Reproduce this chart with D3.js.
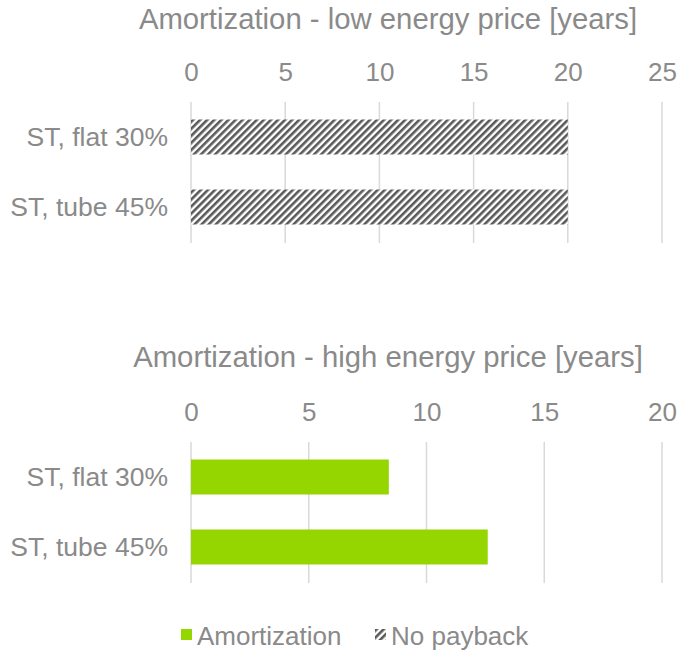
<!DOCTYPE html>
<html>
<head>
<meta charset="utf-8">
<script src="https://cdn.jsdelivr.net/npm/d3@7"></script>
<style>
  body { margin: 0; background: white; }
  text { font-family: "Liberation Sans", Arial, sans-serif; fill: #8a8a8a; }
</style>
</head>
<body>
<div id="chart"></div>
<script>
const categories = ['ST, flat 30%', 'ST, tube 45%']
const lowNoPayback = [20, 20]
const highAmortization = [8.4, 12.6]
const lowTicks = [0, 5, 10, 15, 20, 25]
const highTicks = [0, 5, 10, 15, 20]
const legendItems = ['Amortization', 'No payback']

const width = 680
const height = 651
const green = '#96d600'
const gridColor = '#d9d9d9'
const textColor = '#8a8a8a'

const svg = d3.select('#chart').append('svg')
  .attr('width', width)
  .attr('height', height)

svg.append('rect')
  .attr('width', width)
  .attr('height', height)
  .attr('fill', 'white')

// hatch for "no payback"
const defs = svg.append('defs')
const pattern = defs.append('pattern')
  .attr('id', 'hatch')
  .attr('patternUnits', 'userSpaceOnUse')
  .attr('width', 5)
  .attr('height', 5)
  .attr('patternTransform', 'rotate(45)')
pattern.append('rect')
  .attr('width', 5)
  .attr('height', 5)
  .attr('fill', 'white')
pattern.append('rect')
  .attr('width', 2.6)
  .attr('height', 5)
  .attr('fill', '#595959')

function panel(opts) {
  const g = svg.append('g')
  const x = d3.scaleLinear()
    .domain([0, opts.ticks[opts.ticks.length - 1]])
    .range([191, 662])
  const y = d3.scaleBand()
    .domain(categories)
    .range([opts.top, opts.top + 140])
    .paddingInner(0.5)
    .paddingOuter(0.25)

  g.append('text')
    .attr('x', 388)
    .attr('y', opts.titleY)
    .attr('text-anchor', 'middle')
    .attr('font-size', 29.3)
    .text(opts.title)

  // grid lines
  g.selectAll('.grid')
    .data(opts.ticks)
    .enter().append('line')
    .attr('x1', d => x(d))
    .attr('x2', d => x(d))
    .attr('y1', opts.top)
    .attr('y2', opts.top + 141)
    .attr('stroke', gridColor)
    .attr('stroke-width', 1.5)

  const axis = g.append('g')
    .attr('transform', 'translate(0,' + (opts.top - 21) + ')')
    .call(d3.axisTop(x).tickValues(opts.ticks).tickSize(0).tickPadding(0))
  axis.select('.domain').remove()
  axis.selectAll('text')
    .attr('font-size', 26)
    .attr('fill', textColor)
    .attr('font-family', '"Liberation Sans", Arial, sans-serif')

  g.selectAll('.cat')
    .data(categories)
    .enter().append('text')
    .attr('x', 168)
    .attr('y', d => y(d) + y.bandwidth() / 2)
    .attr('dy', '0.35em')
    .attr('text-anchor', 'end')
    .attr('font-size', 26.5)
    .text(d => d)

  g.selectAll('.bar')
    .data(opts.values)
    .enter().append('rect')
    .attr('x', x(0))
    .attr('y', (d, i) => y(categories[i]))
    .attr('width', d => x(d) - x(0))
    .attr('height', y.bandwidth())
    .attr('fill', opts.fill)
}

panel({
  title: 'Amortization - low energy price [years]',
  titleY: 29,
  top: 102,
  ticks: lowTicks,
  values: lowNoPayback,
  fill: 'url(#hatch)'
})

panel({
  title: 'Amortization - high energy price [years]',
  titleY: 367,
  top: 442,
  ticks: highTicks,
  values: highAmortization,
  fill: green
})

// legend
const legend = svg.append('g')
legend.append('rect')
  .attr('x', 181).attr('y', 629).attr('width', 11).attr('height', 11)
  .attr('fill', green)
legend.append('text')
  .attr('x', 197).attr('y', 645).attr('font-size', 26)
  .text(legendItems[0])
legend.append('rect')
  .attr('x', 375).attr('y', 629).attr('width', 11).attr('height', 11)
  .attr('fill', 'url(#hatch)')
legend.append('text')
  .attr('x', 391).attr('y', 645).attr('font-size', 26)
  .text(legendItems[1])
</script>
</body>
</html>
